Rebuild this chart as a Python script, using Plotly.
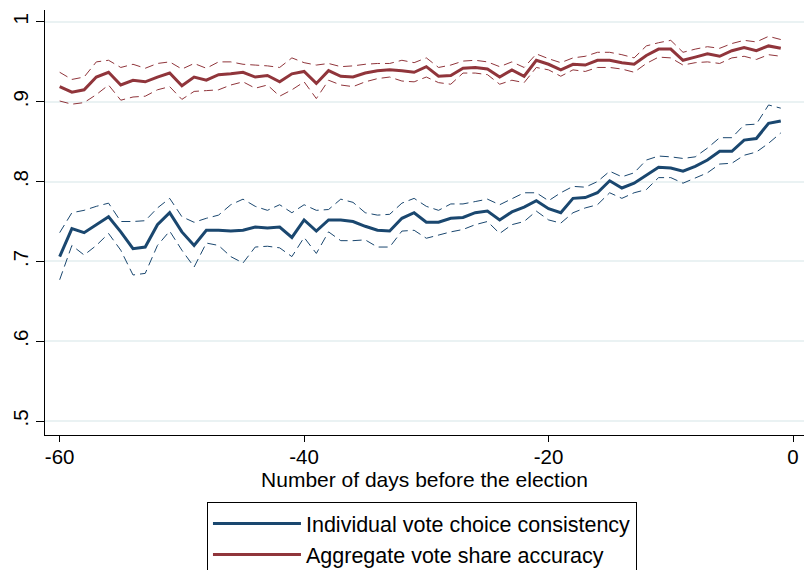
import plotly.graph_objects as go

days = list(range(-60, 0))

indiv_mean = [0.706, 0.741, 0.736, 0.746, 0.756, 0.737, 0.716, 0.718, 0.746, 0.761,
              0.737, 0.720, 0.739, 0.739, 0.738, 0.739, 0.743, 0.742, 0.743, 0.730,
              0.752, 0.738, 0.752, 0.752, 0.750, 0.744, 0.739, 0.738, 0.754, 0.761,
              0.749, 0.749, 0.754, 0.755, 0.761, 0.763, 0.752, 0.762, 0.768, 0.776,
              0.766, 0.761, 0.779, 0.780, 0.786, 0.801, 0.792, 0.798, 0.808, 0.818,
              0.817, 0.813, 0.819, 0.827, 0.838, 0.838, 0.852, 0.854, 0.873, 0.876]
indiv_upper = [0.736, 0.761, 0.764, 0.769, 0.773, 0.750, 0.750, 0.751, 0.767, 0.779,
               0.756, 0.749, 0.754, 0.758, 0.771, 0.778, 0.769, 0.764, 0.771, 0.761,
               0.771, 0.764, 0.765, 0.778, 0.774, 0.761, 0.758, 0.759, 0.773, 0.779,
               0.769, 0.764, 0.772, 0.772, 0.775, 0.778, 0.771, 0.779, 0.786, 0.786,
               0.776, 0.786, 0.794, 0.793, 0.800, 0.813, 0.806, 0.811, 0.827, 0.832,
               0.831, 0.829, 0.831, 0.842, 0.855, 0.855, 0.871, 0.872, 0.896, 0.892]
indiv_lower = [0.677, 0.720, 0.708, 0.720, 0.735, 0.714, 0.683, 0.685, 0.720, 0.738,
               0.714, 0.693, 0.723, 0.720, 0.706, 0.698, 0.718, 0.719, 0.717, 0.706,
               0.730, 0.710, 0.737, 0.726, 0.726, 0.727, 0.718, 0.718, 0.738, 0.739,
               0.729, 0.733, 0.737, 0.740, 0.746, 0.750, 0.735, 0.746, 0.750, 0.763,
               0.752, 0.748, 0.761, 0.767, 0.771, 0.786, 0.779, 0.786, 0.790, 0.805,
               0.805, 0.798, 0.805, 0.811, 0.822, 0.823, 0.833, 0.837, 0.848, 0.861]

agg_mean = [0.919, 0.912, 0.915, 0.931, 0.937, 0.921, 0.927, 0.925, 0.931, 0.936,
            0.920, 0.931, 0.927, 0.934, 0.935, 0.937, 0.931, 0.933, 0.925, 0.935,
            0.938, 0.923, 0.939, 0.932, 0.931, 0.936, 0.939, 0.940, 0.939, 0.937,
            0.944, 0.932, 0.933, 0.942, 0.943, 0.941, 0.931, 0.940, 0.932, 0.952,
            0.947, 0.940, 0.947, 0.946, 0.952, 0.952, 0.949, 0.947, 0.958, 0.966,
            0.966, 0.952, 0.956, 0.960, 0.957, 0.964, 0.968, 0.964, 0.970, 0.967]
agg_upper = [0.937, 0.928, 0.931, 0.950, 0.952, 0.943, 0.947, 0.942, 0.948, 0.950,
             0.941, 0.948, 0.942, 0.950, 0.950, 0.947, 0.946, 0.945, 0.943, 0.955,
             0.949, 0.946, 0.948, 0.944, 0.945, 0.947, 0.948, 0.948, 0.952, 0.949,
             0.955, 0.943, 0.946, 0.951, 0.952, 0.950, 0.944, 0.950, 0.943, 0.960,
             0.954, 0.949, 0.955, 0.957, 0.962, 0.962, 0.959, 0.955, 0.970, 0.974,
             0.977, 0.962, 0.966, 0.969, 0.967, 0.973, 0.977, 0.975, 0.982, 0.978]
agg_lower = [0.901, 0.897, 0.899, 0.909, 0.921, 0.902, 0.906, 0.907, 0.915, 0.919,
             0.903, 0.913, 0.914, 0.915, 0.921, 0.925, 0.917, 0.921, 0.907, 0.915,
             0.925, 0.904, 0.927, 0.921, 0.919, 0.925, 0.929, 0.931, 0.926, 0.925,
             0.931, 0.924, 0.922, 0.936, 0.936, 0.934, 0.922, 0.927, 0.924, 0.943,
             0.940, 0.932, 0.940, 0.938, 0.943, 0.943, 0.941, 0.937, 0.948, 0.956,
             0.955, 0.946, 0.949, 0.950, 0.948, 0.955, 0.957, 0.953, 0.959, 0.957]

y_tickvals = [0.5, 0.6, 0.7, 0.8, 0.9, 1.0]
y_ticktext = [".5", ".6", ".7", ".8", ".9", "1"]
x_tickvals = [-60, -40, -20, 0]
x_ticktext = ["-60", "-40", "-20", "0"]

BLUE = "#1a476f"
RED = "#90353b"
FONT = "Liberation Sans, Arial, sans-serif"

fig = go.Figure()

for mean, up, lo, color, name in [
    (indiv_mean, indiv_upper, indiv_lower, BLUE, "Individual vote choice consistency"),
    (agg_mean, agg_upper, agg_lower, RED, "Aggregate vote share accuracy"),
]:
    fig.add_trace(go.Scatter(x=days, y=mean, mode="lines", name=name,
                             line=dict(color=color, width=3)))
    fig.add_trace(go.Scatter(x=days, y=up, mode="lines", showlegend=False,
                             line=dict(color=color, width=1, dash="9px,5px")))
    fig.add_trace(go.Scatter(x=days, y=lo, mode="lines", showlegend=False,
                             line=dict(color=color, width=1, dash="9px,5px")))

fig.update_layout(
    width=804, height=570,
    margin=dict(l=45, r=0, t=10, b=135, autoexpand=False),
    paper_bgcolor="white", plot_bgcolor="white",
    font=dict(family=FONT, size=20, color="black"),
    xaxis=dict(range=[-61.2, 0.9], tickvals=x_tickvals, ticktext=x_ticktext,
               ticks="outside", ticklen=6, ticklabelstandoff=-3,
               ticklabeloverflow="allow",
               tickcolor="black", showline=True, linecolor="black", linewidth=1,
               showgrid=False, zeroline=False, automargin=False,
               title=dict(text="Number of days before the election", standoff=0,
                          font=dict(size=21)),
               tickfont=dict(size=20.5)),
    yaxis=dict(range=[0.4825, 1.015], tickvals=y_tickvals, ticktext=y_ticktext,
               ticks="outside", ticklen=8, tickcolor="black", tickangle=-90,
               showline=True, linecolor="black", linewidth=1, automargin=False,
               showgrid=True, gridcolor="#eaf2f3", gridwidth=1.5, zeroline=False,
               tickfont=dict(size=20.5)),
    legend=dict(x=0.2134, xanchor="left", y=-0.1576, yanchor="top",
                bordercolor="black", borderwidth=1, bgcolor="white",
                font=dict(size=21.5), itemwidth=88, tracegroupgap=0),
    showlegend=True,
)

# remove the default page margin so the 804x570 figure fills the window exactly
fig.write_html("out.html", config={"displayModeBar": False},
               post_script="document.body.style.margin='0px';")
